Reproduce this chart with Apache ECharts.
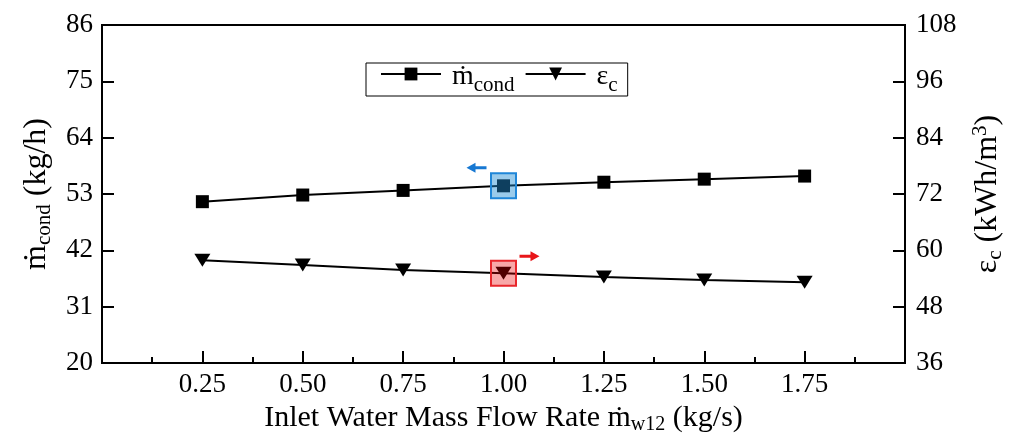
<!DOCTYPE html>
<html>
<head>
<meta charset="utf-8">
<script src="https://cdn.jsdelivr.net/npm/echarts@6/dist/echarts.min.js"></script>
<style>
html,body{margin:0;padding:0;background:#fff;}
#chart{width:1022px;height:434px;}
</style>
</head>
<body>
<div id="chart"></div>
<script>
// Data
var flowRate = [0.25, 0.50, 0.75, 1.00, 1.25, 1.50, 1.75];
var mCond = [51.5, 52.8, 53.7, 54.6, 55.3, 55.9, 56.5];
var epsC = [57.9, 56.9, 55.8, 55.1, 54.3, 53.7, 53.2];
var highlightIndex = 3;

var FONT = 'Liberation Serif';
var richX = {
  a: {fontFamily: FONT, fontSize: 30, color: '#000', lineHeight: 34, verticalAlign: 'middle'},
  s: {fontFamily: FONT, fontSize: 20, color: '#000', lineHeight: 20, verticalAlign: 'bottom'}
};
var richY = {
  a: {fontFamily: FONT, fontSize: 32, color: '#000', lineHeight: 36, verticalAlign: 'middle'},
  s: {fontFamily: FONT, fontSize: 21, color: '#000', lineHeight: 21, verticalAlign: 'bottom'},
  p: {fontFamily: FONT, fontSize: 21, color: '#000', lineHeight: 21, verticalAlign: 'top'}
};
var legendRich = {
  a: {fontFamily: FONT, fontSize: 28, color: '#000', lineHeight: 22, verticalAlign: 'top', padding: [0, 0, 0, 6]},
  s: {fontFamily: FONT, fontSize: 21, color: '#000', lineHeight: 12, verticalAlign: 'top', padding: [12, 0, 0, 0]}
};

function pairs(xs, ys) { return xs.map(function (x, i) { return [x, ys[i]]; }); }

var chart = echarts.init(document.getElementById('chart'));
chart.setOption({
  animation: false,
  backgroundColor: '#fff',
  grid: {left: 102, right: 117, top: 25, bottom: 71, outerBoundsMode: 'none', containLabel: false,
         show: true, borderColor: '#000', borderWidth: 2, backgroundColor: 'transparent'},
  legend: {
    left: 366, top: 63,
    padding: [0, 10, 0, 14],
    borderColor: '#000', borderWidth: 1, borderRadius: 0,
    itemWidth: 60, itemHeight: 16, itemGap: 10,
    textStyle: {rich: legendRich},
    formatter: function (name) {
      return name === 'm' ? '{a|ṁ}{s|cond}' : '{a|ε}{s|c}';
    },
    data: ['m', 'e']
  },
  xAxis: {
    type: 'value', min: 0, max: 2, interval: 0.25,
    axisLine: {lineStyle: {color: '#000', width: 2}},
    axisTick: {inside: true, length: 12, lineStyle: {color: '#000', width: 2}},
    minorTick: {show: true, splitNumber: 2, length: 6, lineStyle: {color: '#000', width: 2}},
    splitLine: {show: false},
    axisLabel: {
      fontFamily: FONT, fontSize: 27, color: '#000', margin: 8,
      showMinLabel: false, showMaxLabel: false,
      formatter: function (v) { return (v <= 0 || v >= 2) ? '' : v.toFixed(2); }
    },
    name: '{a|Inlet Water Mass Flow Rate ṁ}{s|w12}{a| (kg/s)}',
    nameLocation: 'middle', nameGap: 32,
    nameTextStyle: {rich: richX}
  },
  yAxis: [{
    type: 'value', min: 20, max: 86, interval: 11, position: 'left',
    axisLine: {show: true, lineStyle: {color: '#000', width: 2}},
    axisTick: {inside: true, length: 12, lineStyle: {color: '#000', width: 2}},
    splitLine: {show: false},
    axisLabel: {fontFamily: FONT, fontSize: 27, color: '#000', margin: 9},
    name: '{a|ṁ}{s|cond}{a| (kg/h)}',
    nameLocation: 'middle', nameGap: 47, nameRotate: 90,
    nameTextStyle: {rich: richY}
  }, {
    type: 'value', min: 36, max: 108, interval: 12, position: 'right',
    axisLine: {show: true, lineStyle: {color: '#000', width: 2}},
    axisTick: {inside: true, length: 12, lineStyle: {color: '#000', width: 2}},
    splitLine: {show: false},
    axisLabel: {fontFamily: FONT, fontSize: 27, color: '#000', margin: 11},
    name: '{a|ε}{s|c}{a| (kWh/m}{p|3}{a|)}',
    nameLocation: 'middle', nameGap: 65, nameRotate: 90,
    nameTextStyle: {rich: richY}
  }],
  series: [{
    name: 'm', type: 'line', yAxisIndex: 0,
    data: pairs(flowRate, mCond),
    symbol: 'rect', symbolSize: 13,
    lineStyle: {color: '#000', width: 2},
    itemStyle: {color: '#000'},
    markPoint: {
      silent: true,
      label: {show: false},
      data: [{
        coord: [flowRate[highlightIndex], mCond[highlightIndex]],
        symbol: 'rect', symbolSize: 25,
        itemStyle: {color: 'rgba(30,140,210,0.45)', borderColor: '#1f86d8', borderWidth: 2}
      }, {
        coord: [flowRate[highlightIndex], mCond[highlightIndex]],
        symbol: 'path://M0,5L9,0L9,3.5L20,3.5L20,6.5L9,6.5L9,10Z',
        symbolSize: [20, 10], symbolOffset: [-27, -18],
        itemStyle: {color: '#1778d2', borderWidth: 0}
      }]
    }
  }, {
    name: 'e', type: 'line', yAxisIndex: 1,
    data: pairs(flowRate, epsC),
    symbol: 'triangle', symbolSize: [16, 13], symbolRotate: 180,
    lineStyle: {color: '#000', width: 2},
    itemStyle: {color: '#000'},
    markPoint: {
      silent: true,
      label: {show: false},
      data: [{
        coord: [flowRate[highlightIndex], epsC[highlightIndex]],
        symbol: 'rect', symbolSize: 25, symbolRotate: 0,
        itemStyle: {color: 'rgba(235,0,0,0.34)', borderColor: '#e8262b', borderWidth: 2}
      }, {
        coord: [flowRate[highlightIndex], epsC[highlightIndex]],
        symbol: 'path://M20,5L11,0L11,3.5L0,3.5L0,6.5L11,6.5L11,10Z',
        symbolSize: [20, 10], symbolOffset: [26, -17], symbolRotate: 0,
        itemStyle: {color: '#e8161a', borderWidth: 0}
      }]
    }
  }]
});
</script>
</body>
</html>
